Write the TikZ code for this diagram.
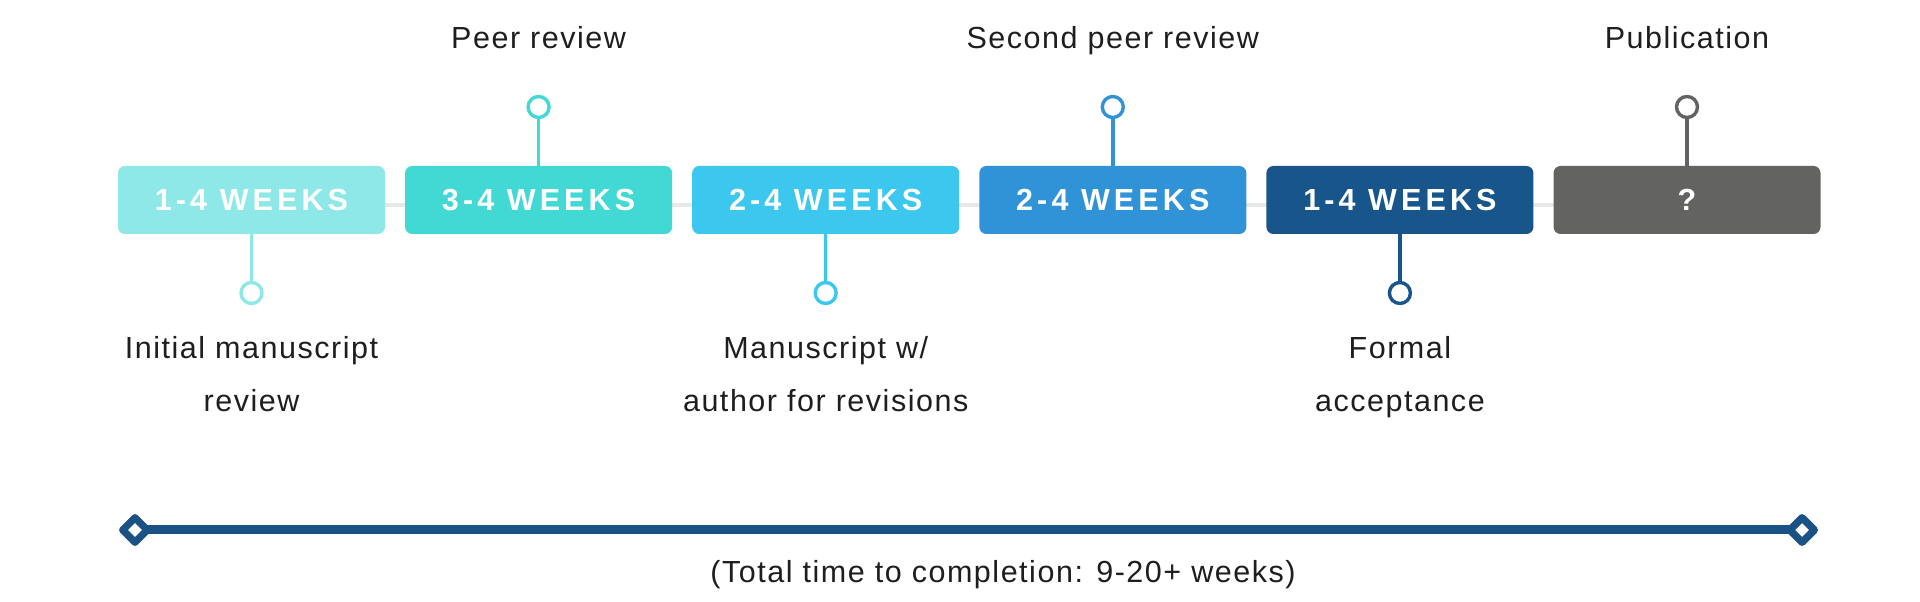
\documentclass[tikz,border=0pt]{standalone}
\usepackage{fontspec}
\usetikzlibrary{backgrounds}
\setmainfont{Liberation Sans}
\newfontfamily\lblfont[LetterSpace=5]{Liberation Sans}
\newfontfamily\weekfont[LetterSpace=13.5]{Liberation Sans}
\definecolor{wkone}{HTML}{8EE8E8}
\definecolor{wktwo}{HTML}{42D9D5}
\definecolor{wkthree}{HTML}{3CC7EE}
\definecolor{wkfour}{HTML}{3093D8}
\definecolor{wkfive}{HTML}{17558B}
\definecolor{wksix}{HTML}{636462}
\definecolor{axisblue}{HTML}{1A5286}
\definecolor{railgray}{HTML}{E8E8E8}
\definecolor{ink}{HTML}{1E1E1E}

\begin{document}
\begin{tikzpicture}[x=1pt,y=1pt,
  week/.style={rectangle,rounded corners=7pt,minimum width=267pt,minimum height=68pt,inner sep=0pt,text=white,font=\weekfont\bfseries\fontsize{30.5}{36}\selectfont},
  pin/.style={circle,draw,fill=white,line width=3.4pt,minimum size=21pt,inner sep=0pt},
  stem/.style={line width=3.5pt},
  lbl/.style={text=ink,font=\lblfont\fontsize{30.5}{53}\selectfont,align=center,inner sep=0pt,anchor=base}]
\useasboundingbox (0,0) rectangle (1920,602);

%boxes
\node[week,fill=wkone]   (wk1) at (251.5,402) {1-4 WEEKS};
\node[week,fill=wktwo]   (wk2) at (538.6,402) {3-4 WEEKS};
\node[week,fill=wkthree] (wk3) at (825.7,402) {2-4 WEEKS};
\node[week,fill=wkfour]  (wk4) at (1112.8,402) {2-4 WEEKS};
\node[week,fill=wkfive]  (wk5) at (1399.9,402) {1-4 WEEKS};
\node[week,fill=wksix]   (wk6) at (1687,402) {?};

%rail behind the boxes
\begin{pgfonlayer}{background}
\draw[railgray,line width=4pt] ([yshift=-5pt]wk1.center) -- ([yshift=-5pt]wk6.center);
\end{pgfonlayer}

%pins
\node[pin,draw=wkone]   (pin1) at (251.5,309) {};
\node[pin,draw=wktwo]   (pin2) at (538.6,495) {};
\node[pin,draw=wkthree] (pin3) at (825.7,309) {};
\node[pin,draw=wkfour]  (pin4) at (1112.8,495) {};
\node[pin,draw=wkfive]  (pin5) at (1399.9,309) {};
\node[pin,draw=wksix]   (pin6) at (1687,495) {};
\draw[stem,wkone]   (wk1.south) -- (pin1);
\draw[stem,wktwo]   (wk2.north) -- (pin2);
\draw[stem,wkthree] (wk3.south) -- (pin3);
\draw[stem,wkfour]  (wk4.north) -- (pin4);
\draw[stem,wkfive]  (wk5.south) -- (pin5);
\draw[stem,wksix]   (wk6.north) -- (pin6);

%labels
\node[lbl] (peer) at (538.6,553) {Peer review};
\node[lbl] (second) at (1112.8,553) {Second peer review};
\node[lbl] (publ) at (1687,553) {Publication};
\node[lbl] (initial) at (251.5,190) {Initial manuscript\\review};
\node[lbl] (revis) at (825.7,190) {Manuscript w/\\author for revisions};
\node[lbl] (accept) at (1399.9,190) {Formal\\acceptance};

%total time axis
\coordinate (tstart) at (135,72);
\coordinate (tend) at (1802,72);
\draw[axisblue,line width=9pt] (tstart) -- (tend);
\draw[axisblue,fill=white,line width=7.4pt,line join=round]
  ([xshift=-12.25pt]tstart) -- ([yshift=12.25pt]tstart) -- ([xshift=12.25pt]tstart) -- ([yshift=-12.25pt]tstart) -- cycle;
\draw[axisblue,fill=white,line width=7.4pt,line join=round]
  ([xshift=-12.25pt]tend) -- ([yshift=12.25pt]tend) -- ([xshift=12.25pt]tend) -- ([yshift=-12.25pt]tend) -- cycle;
\node[lbl] (total) at (1003,19) {(Total time to completion: 9-20+ weeks)};
\end{tikzpicture}
\end{document}
